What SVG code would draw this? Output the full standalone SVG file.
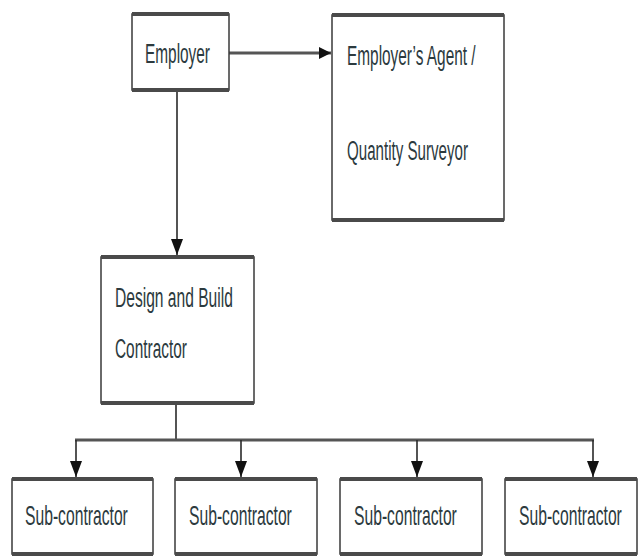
<svg xmlns="http://www.w3.org/2000/svg" width="643" height="556" viewBox="0 0 643 556">
<style>
.box{fill:#ffffff;stroke:#3a3a3a;stroke-width:1.5}
.edge{stroke:#4a4a4a;stroke-width:4}
.t{font-family:"Liberation Sans",Arial,sans-serif;font-size:28px;fill:#2c3a3e}
.c{fill:none;stroke:#2a2a2a;stroke-width:1.6}
.ch{fill:none;stroke:#555;stroke-width:3}
</style>
<defs>
<marker id="ah" viewBox="0 0 12 12" refX="12" refY="6" markerWidth="12" markerHeight="12" markerUnits="userSpaceOnUse" orient="auto">
<path d="M0,0 L12,6 L0,12 Z" fill="#111"/>
</marker>
<marker id="av" viewBox="0 0 16 12" refX="16" refY="6" markerWidth="16" markerHeight="12" markerUnits="userSpaceOnUse" orient="auto">
<path d="M0,0 L16,6 L0,12 Z" fill="#111"/>
</marker>
</defs>
<rect width="643" height="556" fill="#ffffff"/>
<g id="connectors">
<line class="ch" x1="229" y1="53" x2="331" y2="53" marker-end="url(#ah)"/>
<line class="c" x1="177" y1="90" x2="177" y2="255" marker-end="url(#av)"/>
<line class="c" x1="176" y1="403" x2="176" y2="440"/>
<line class="ch" x1="75" y1="440" x2="594" y2="440"/>
<line class="c" x1="76" y1="440" x2="76" y2="477" marker-end="url(#av)"/>
<line class="c" x1="241" y1="440" x2="241" y2="477" marker-end="url(#av)"/>
<line class="c" x1="417" y1="440" x2="417" y2="477" marker-end="url(#av)"/>
<line class="c" x1="593" y1="440" x2="593" y2="477" marker-end="url(#av)"/>
</g>
<g id="employer">
<rect class="box" x="132" y="14" width="97" height="76"/>
<line class="edge" x1="132" y1="14" x2="229" y2="14"/>
<line class="edge" x1="132" y1="90" x2="229" y2="90"/>
<text class="t" transform="translate(145,63) scale(0.55,1)">Employer</text>
</g>
<g id="agent">
<rect class="box" x="332" y="15" width="172" height="205"/>
<line class="edge" x1="332" y1="15" x2="504" y2="15"/>
<line class="edge" x1="332" y1="220" x2="504" y2="220"/>
<text class="t" transform="translate(347,65) scale(0.55,1)">Employer’s Agent /</text>
<text class="t" transform="translate(347,160) scale(0.54,1)">Quantity Surveyor</text>
</g>
<g id="contractor">
<rect class="box" x="101" y="257" width="153" height="146"/>
<line class="edge" x1="101" y1="257" x2="254" y2="257"/>
<line class="edge" x1="101" y1="403" x2="254" y2="403"/>
<text class="t" transform="translate(115,307) scale(0.557,1)">Design and Build</text>
<text class="t" transform="translate(115,358) scale(0.55,1)">Contractor</text>
</g>
<g id="sub1">
<rect class="box" x="12" y="479" width="141" height="75"/>
<line class="edge" x1="12" y1="479" x2="153" y2="479"/>
<line class="edge" x1="12" y1="554" x2="153" y2="554"/>
<text class="t" transform="translate(25,525) scale(0.56,1)">Sub-contractor</text>
</g>
<g id="sub2">
<rect class="box" x="175" y="479" width="142" height="75"/>
<line class="edge" x1="175" y1="479" x2="317" y2="479"/>
<line class="edge" x1="175" y1="554" x2="317" y2="554"/>
<text class="t" transform="translate(189,525) scale(0.56,1)">Sub-contractor</text>
</g>
<g id="sub3">
<rect class="box" x="340" y="479" width="142" height="75"/>
<line class="edge" x1="340" y1="479" x2="482" y2="479"/>
<line class="edge" x1="340" y1="554" x2="482" y2="554"/>
<text class="t" transform="translate(354,525) scale(0.56,1)">Sub-contractor</text>
</g>
<g id="sub4">
<rect class="box" x="505" y="479" width="132" height="75"/>
<line class="edge" x1="505" y1="479" x2="637" y2="479"/>
<line class="edge" x1="505" y1="554" x2="637" y2="554"/>
<text class="t" transform="translate(519,525) scale(0.56,1)">Sub-contractor</text>
</g>
</svg>
